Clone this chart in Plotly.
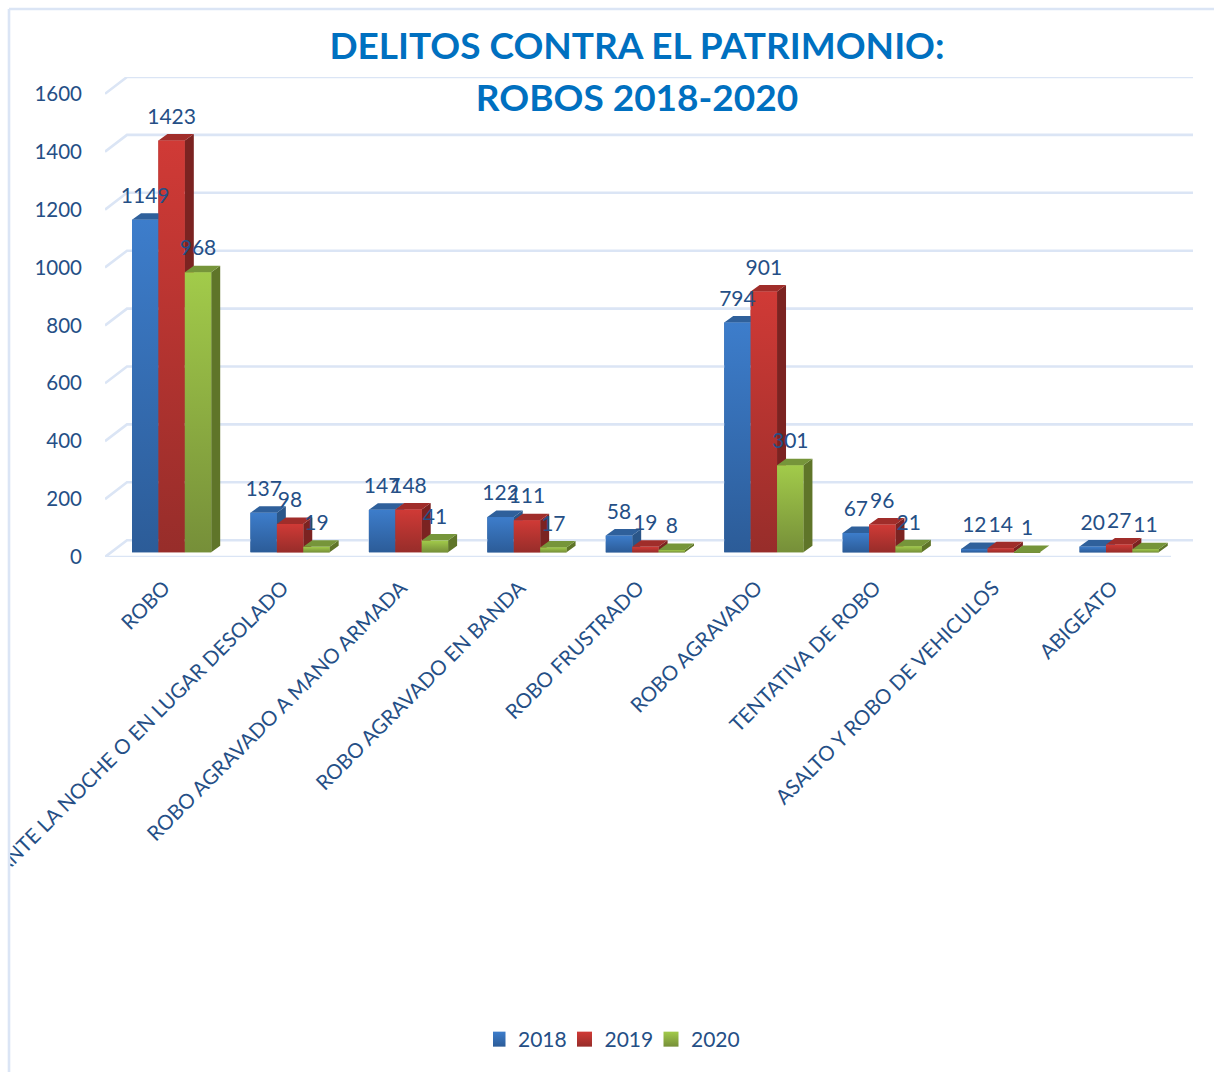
import plotly.graph_objects as go

categories = ["ROBO", "ANTE LA NOCHE O EN LUGAR DESOLADO", "ROBO AGRAVADO A MANO ARMADA",
              "ROBO AGRAVADO EN BANDA", "ROBO FRUSTRADO", "ROBO AGRAVADO", "TENTATIVA DE ROBO",
              "ASALTO Y ROBO DE VEHICULOS", "ABIGEATO"]
years = ["2018", "2019", "2020"]
v2018 = [1149, 137, 147, 122, 58, 794, 67, 12, 20]
v2019 = [1423, 98, 148, 111, 19, 901, 96, 14, 27]
v2020 = [968, 19, 41, 17, 8, 301, 21, 1, 11]
y_ticks = [0, 200, 400, 600, 800, 1000, 1200, 1400, 1600]

series = [v2018, v2019, v2020]
front_low = ["#2c5c98", "#972d2a", "#768f39"]
front_high = ["#3d7dcb", "#d03a36", "#a2cb4a"]
side_col = ["#2a5689", "#7b2321", "#5f7529"]
top_col = ["#2f609b", "#a02d2a", "#76953a"]
TXT = "#254f86"
GRID = "#dbe5f5"
FONT = "Lato"

PXX, PXY = 118.44, 0.2895          # px per data unit
BASE = 16                          # bars stand slightly in front of the floor edge
W = 26.4 / PXX
START = -0.272
DX, DY = 9 / PXX, 6.5 / PXY        # bar depth
WX, WY = 22 / PXX, 58              # wall depth
XL, XR = -0.5, 8.5

fig = go.Figure()

# wall and floor lines
gx, gy = [], []
for t in y_ticks:
    gx += [XL, XL + WX, XR + WX, None]
    gy += [t, t + WY, t + WY, None]
gx += [XL, XR]
gy += [0, 0]
fig.add_trace(go.Scatter(x=gx, y=gy, mode="lines", line=dict(color=GRID, width=2.6),
                         hoverinfo="skip", showlegend=False, cliponaxis=False))

for j, vals in enumerate(series):
    xs = [i + START + j * W for i in range(len(vals))]
    fig.add_trace(go.Bar(x=[a + W / 2 for a in xs], y=vals, base=BASE, width=W, name=years[j],
                         marker=dict(color=front_low[j], line=dict(width=0)), showlegend=False))

for j, vals in enumerate(series):
    sx, sy, tx, ty = [], [], [], []
    for i, v in enumerate(vals):
        l = i + START + j * W
        r = l + W
        h = v + BASE
        sx += [r, r + DX, r + DX, r, r, None]
        sy += [BASE, BASE + DY, h + DY, h, BASE, None]
        tx += [l, l + DX, r + DX, r, l, None]
        ty += [h, h + DY, h + DY, h, h, None]
    fig.add_trace(go.Scatter(x=sx, y=sy, mode="lines", line=dict(width=0), fill="toself",
                             fillcolor=side_col[j], hoverinfo="skip", showlegend=False))
    fig.add_trace(go.Scatter(x=tx, y=ty, mode="lines", line=dict(width=0), fill="toself",
                             fillcolor=top_col[j], hoverinfo="skip", showlegend=False))
    for i, v in enumerate(vals):
        l = i + START + j * W
        r = l + W
        h = v + BASE
        fig.add_trace(go.Scatter(x=[l, r, r, l, l], y=[BASE, BASE, h, h, BASE], mode="lines",
                                 line=dict(width=0), fill="toself",
                                 fillgradient=dict(type="vertical",
                                                   colorscale=[[0, front_low[j]], [1, front_high[j]]]),
                                 hoverinfo="skip", showlegend=False))

# data labels
for j, vals in enumerate(series):
    fig.add_trace(go.Scatter(x=[i + START + j * W + W / 2 for i in range(len(vals))],
                             y=[v + BASE + 22 / PXY for v in vals],
                             text=[str(v) for v in vals], mode="text", textposition="middle center",
                             textfont=dict(family=FONT, size=21, color=TXT),
                             hoverinfo="skip", showlegend=False, cliponaxis=False))

# legend entries
for j, name in enumerate(years):
    fig.add_trace(go.Scatter(x=[None], y=[None], mode="markers", name=name,
                             marker=dict(symbol="square", size=15, color=front_high[j],
                                         gradient=dict(type="vertical", color=front_low[j]))))

fig.update_layout(
    width=1214, height=1072, autosize=False,
    margin=dict(l=105, r=21, t=77, b=515, autoexpand=False),
    paper_bgcolor="white", plot_bgcolor="rgba(0,0,0,0)",
    barmode="overlay",
    title=dict(text='<span style="font-size:37px">DELITOS CONTRA EL PATRIMONIO:</span><br>'
                    '<span style="font-size:37px">ROBOS 2018-2020</span>',
               x=637 / 1214, xanchor="center", y=1 - 59 / 1072, yanchor="top",
               font=dict(family=FONT, size=40, color="#0070c0", weight="bold")),
    xaxis=dict(range=[XL, XR + WX], tickmode="array", tickvals=list(range(9)), ticktext=categories,
               tickangle=-45, showgrid=False, zeroline=False, showline=False, ticks="",
               tickfont=dict(family=FONT, size=20.5, color=TXT), ticklabelstandoff=14, automargin=False,
               ticklabeloverflow="allow"),
    yaxis=dict(range=[0, 480 / PXY], tickmode="array", tickvals=y_ticks, showgrid=False, zeroline=False,
               showline=False, ticks="", tickfont=dict(family=FONT, size=20.5, color=TXT),
               ticklabelstandoff=22, automargin=False),
    legend=dict(orientation="h", x=(493 - 105) / 1088, xanchor="left", y=(557 - 1019) / 480, yanchor="top",
                font=dict(family=FONT, size=21, color=TXT), indentation=-15,
                entrywidthmode="pixels", entrywidth=56.5, itemclick=False, itemdoubleclick=False),
    shapes=[
        dict(type="rect", xref="paper", yref="paper", x0=-105 / 1088, x1=-95 / 1088,
             y0=-515 / 480, y1=1, fillcolor="white", line=dict(width=0), layer="above"),
        dict(type="line", xref="paper", yref="paper", x0=-96 / 1088, x1=-96 / 1088,
             y0=-515 / 480, y1=(557 - 9) / 480, line=dict(color=GRID, width=2.6), layer="above"),
        dict(type="line", xref="paper", yref="paper", x0=-96 / 1088, x1=1109 / 1088,
             y0=(557 - 9) / 480, y1=(557 - 9) / 480, line=dict(color=GRID, width=2.6), layer="above"),
    ],
)

fig.write_html("out.html", config={"displayModeBar": False},
               post_script="document.body.style.margin='0';")
